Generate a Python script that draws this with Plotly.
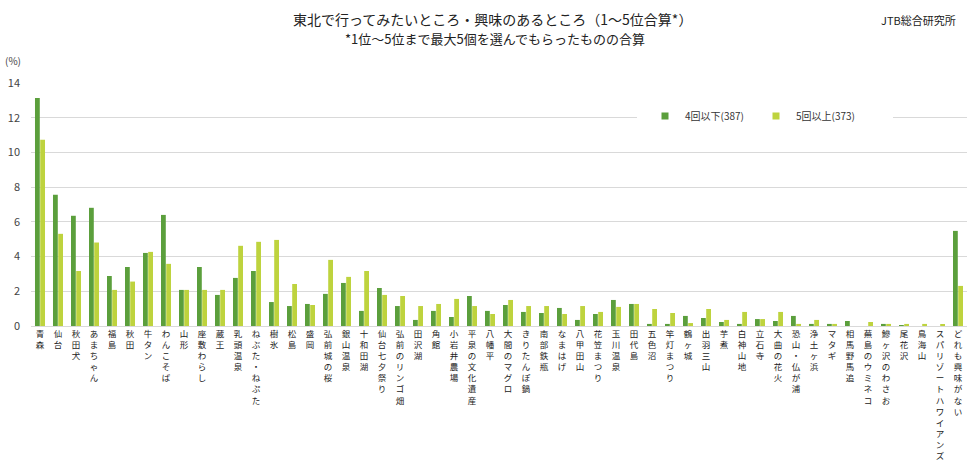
import plotly.graph_objects as go

categories = ["青森", "仙台", "秋田犬", "あまちゃん", "福島", "秋田", "牛タン", "わんこそば", "山形",
              "座敷わらし", "蔵王", "乳頭温泉", "ねぶた・ねぷた", "樹氷", "松島", "盛岡", "弘前城の桜",
              "銀山温泉", "十和田湖", "仙台七夕祭り", "弘前のリンゴ畑", "田沢湖", "角館", "小岩井農場",
              "平泉の文化遺産", "八幡平", "大間のマグロ", "きりたんぽ鍋", "南部鉄瓶", "なまはげ", "八甲田山",
              "花笠まつり", "玉川温泉", "田代島", "五色沼", "竿灯まつり", "鶴ヶ城", "出羽三山", "芋煮",
              "白神山地", "立石寺", "大曲の花火", "恐山・仏が浦", "浄土ヶ浜", "マタギ", "相馬野馬追",
              "蕪島のウミネコ", "鰺ヶ沢のわさお", "尾花沢", "鳥海山", "スパリゾートハワイアンズ", "どれも興味がない"]

under4 = [13.13, 7.56, 6.35, 6.81, 2.88, 3.40, 4.21, 6.40, 2.08, 3.40, 1.79, 2.77, 3.17, 1.38, 1.15, 1.27, 1.85,
          2.48, 0.87, 2.19, 1.15, 0.35, 0.87, 0.52, 1.73, 0.87, 1.21, 0.81, 0.75, 1.04, 0.35, 0.69, 1.50, 1.27,
          0.12, 0.12, 0.58, 0.46, 0.23, 0.12, 0.40, 0.29, 0.58, 0.12, 0.12, 0.29, 0.0, 0.12, 0.05, 0.0, 0.0, 5.48]

over5 = [10.73, 5.31, 3.17, 4.81, 2.08, 2.56, 4.27, 3.58, 2.08, 2.08, 2.08, 4.62, 4.85, 4.96, 2.42, 1.21, 3.81,
         2.83, 3.17, 1.79, 1.73, 1.15, 1.27, 1.56, 1.15, 0.69, 1.50, 1.15, 1.15, 0.69, 1.15, 0.81, 1.10, 1.27,
         0.98, 0.75, 0.17, 0.98, 0.35, 0.81, 0.40, 0.81, 0.12, 0.35, 0.12, 0.0, 0.23, 0.12, 0.12, 0.12, 0.06, 2.31]

series_names = ["4回以下(387)", "5回以上(373)"]
y_ticks = [0, 2, 4, 6, 8, 10, 12, 14]

ticktext = ["<br>".join(list(c)) for c in categories]

FONT = "Noto Sans CJK JP"
DARK, LIGHT = "#5B9F3C", "#BED33E"

W, H = 980, 469
pl, pr, pt, pb = 31, 13, 83, 143
pw, ph = W - pl - pr, H - pt - pb


def px(x):
    return (x - pl) / pw


def py(y):
    return (H - pb - y) / ph


fig = go.Figure()
fig.add_trace(go.Bar(x=categories, y=under4, name=series_names[0], marker_color=DARK,
                     marker_line_width=0, showlegend=False))
fig.add_trace(go.Bar(x=categories, y=over5, name=series_names[1], marker_color=LIGHT,
                     marker_line_width=0, showlegend=False))
# legend keys (small squares like the reference), one legend box each
for nm, col, lg in zip(series_names, [DARK, LIGHT], ["legend", "legend2"]):
    fig.add_trace(go.Scatter(x=[None], y=[None], mode="markers", name=nm, legend=lg,
                             marker=dict(symbol="square", size=7, color=col)))

annotations = [
    dict(text="東北で行ってみたいところ・興味のあるところ（1～5位合算*）", x=px(492), y=py(19),
         font=dict(size=14, color="#222222")),
    dict(text="*1位～5位まで最大5個を選んでもらったものの合算", x=px(495), y=py(39),
         font=dict(size=13, color="#222222")),
    dict(text="JTB総合研究所", x=px(918), y=py(20), font=dict(size=11, color="#222222")),
    dict(text="(%)", x=px(13), y=py(60), font=dict(size=10, color="#444444")),
]
for a in annotations:
    a.update(xref="paper", yref="paper", showarrow=False, xanchor="center", yanchor="middle")

leg_common = dict(orientation="h", xanchor="left", yanchor="middle", bgcolor="white",
                  font=dict(size=10, color="#333333"), itemwidth=30)

fig.update_layout(
    width=W, height=H,
    margin=dict(l=pl, r=pr, t=pt, b=pb, autoexpand=False),
    paper_bgcolor="white", plot_bgcolor="white",
    barmode="group", bargap=0.42, bargroupgap=0.08,
    font=dict(family=FONT, size=11, color="#333333"),
    showlegend=True,
    legend=dict(x=px(645), y=py(116), **leg_common),
    legend2=dict(x=px(756), y=py(116), **leg_common),
    annotations=annotations,
    shapes=[dict(type="rect", xref="paper", yref="paper", x0=px(637), x1=px(893),
                 y0=py(112), y1=py(120), fillcolor="white", line=dict(width=0), layer="above")],
)

fig.update_xaxes(tickmode="array", tickvals=categories, ticktext=ticktext, tickangle=0,
                 tickfont=dict(size=8.5, color="#222222"), showline=True, linecolor="#d9d9d9",
                 linewidth=1, ticks="", showgrid=False, automargin=False)
fig.update_yaxes(range=[0, 14], tickvals=y_ticks, showgrid=True, gridcolor="#d9d9d9", gridwidth=1,
                 zeroline=False, tickfont=dict(size=11, color="#444444"), ticks="", showline=False,
                 automargin=False, ticklabelstandoff=10)

fig.write_html("out.html")
